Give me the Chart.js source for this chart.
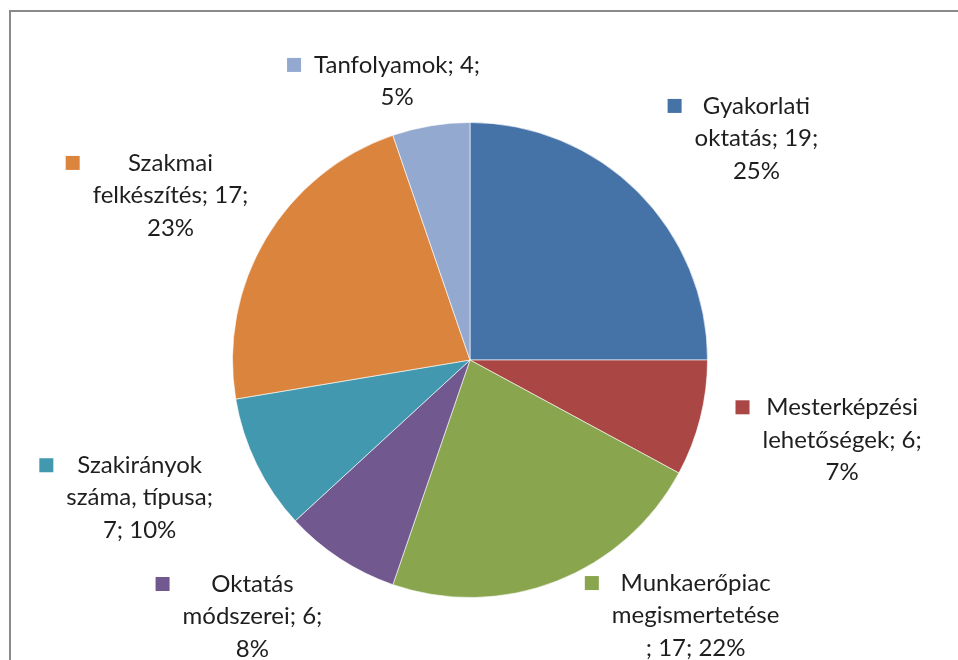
<!DOCTYPE html>
<html>
<head>
<meta charset="utf-8">
<script src="https://cdn.jsdelivr.net/npm/chart.js@4/dist/chart.umd.min.js"></script>
<style>
  html, body { margin: 0; padding: 0; background: #ffffff; }
  #wrap { width: 958px; height: 660px; }
</style>
</head>
<body>
<div id="wrap"><canvas id="pie" width="958" height="660"></canvas></div>
<script>
const categories = [
    'Gyakorlati oktatás',
    'Mesterképzési lehetőségek',
    'Munkaerőpiac megismertetése',
    'Oktatás módszerei',
    'Szakirányok száma, típusa',
    'Szakmai felkészítés',
    'Tanfolyamok'
];
const values = [19, 6, 17, 6, 7, 17, 4];
const percents = [25, 7, 22, 8, 10, 23, 5];

// wrapped data label text, {v} = value, {p} = percent
const labelLines = [
    ['Gyakorlati', 'oktatás; {v};', '{p}%'],
    ['Mesterképzési', 'lehetőségek; {v};', '{p}%'],
    ['Munkaerőpiac', 'megismertetése', '; {v}; {p}%'],
    ['Oktatás', 'módszerei; {v};', '{p}%'],
    ['Szakirányok', 'száma, típusa;', '{v}; {p}%'],
    ['Szakmai', 'felkészítés; {v};', '{p}%'],
    ['Tanfolyamok; {v};', '{p}%']
];

const colors = ['#4572A7', '#AA4643', '#89A54E', '#71588F', '#4198AF', '#DB843D', '#93A9CF'];

// label block centres, in units of the pie radius from the pie centre
const labelAnchors = [
    [1.206, -0.933], [1.567, 0.336], [0.950, 1.076], [-0.916, 1.080],
    [-1.391, 0.580], [-1.261, -0.693], [-0.307, -1.174]
];

const FONT = '24px Lato';
const LINE_H = 32.5;

const frame = {
    id: 'frame',
    beforeDraw(chart) {
        const ctx = chart.ctx;
        ctx.save();
        ctx.strokeStyle = '#8a8a8a';
        ctx.lineWidth = 2;
        ctx.strokeRect(10, 11, chart.width + 20, chart.height + 20);
        ctx.restore();
    }
};

const sliceLabels = {
    id: 'sliceLabels',
    afterDatasetsDraw(chart) {
        const ctx = chart.ctx;
        const meta = chart.getDatasetMeta(0);
        ctx.save();
        ctx.font = FONT;
        ctx.textAlign = 'center';
        ctx.textBaseline = 'middle';
        meta.data.forEach((arc, i) => {
            const r = arc.outerRadius;
            const cx = arc.x + labelAnchors[i][0] * r;
            const cy = arc.y + labelAnchors[i][1] * r;
            const lines = labelLines[i].map(t =>
                t.replace('{v}', values[i]).replace('{p}', percents[i]));
            const top = cy - (lines.length - 1) * LINE_H / 2;
            let widest = 0;
            lines.forEach(l => { widest = Math.max(widest, ctx.measureText(l).width); });

            // legend key sits left of the widest line, level with the first line
            ctx.fillStyle = colors[i];
            ctx.fillRect(cx - widest / 2 - 13 - 14, top - 7, 14, 14);

            ctx.fillStyle = '#1e1e1e';
            lines.forEach((l, k) => ctx.fillText(l, cx, top + k * LINE_H));
        });
        ctx.restore();
    }
};

new Chart(document.getElementById('pie'), {
    type: 'pie',
    data: {
        labels: categories,
        datasets: [{
            data: values,
            backgroundColor: colors,
            borderColor: 'rgba(255,255,255,0.6)',
            borderWidth: 1
        }]
    },
    options: {
        responsive: false,
        animation: false,
        layout: { padding: { left: 232, right: 250, top: 122, bottom: 62 } },
        plugins: {
            legend: { display: false },
            tooltip: { enabled: false }
        }
    },
    plugins: [frame, sliceLabels]
});
</script>
</body>
</html>
